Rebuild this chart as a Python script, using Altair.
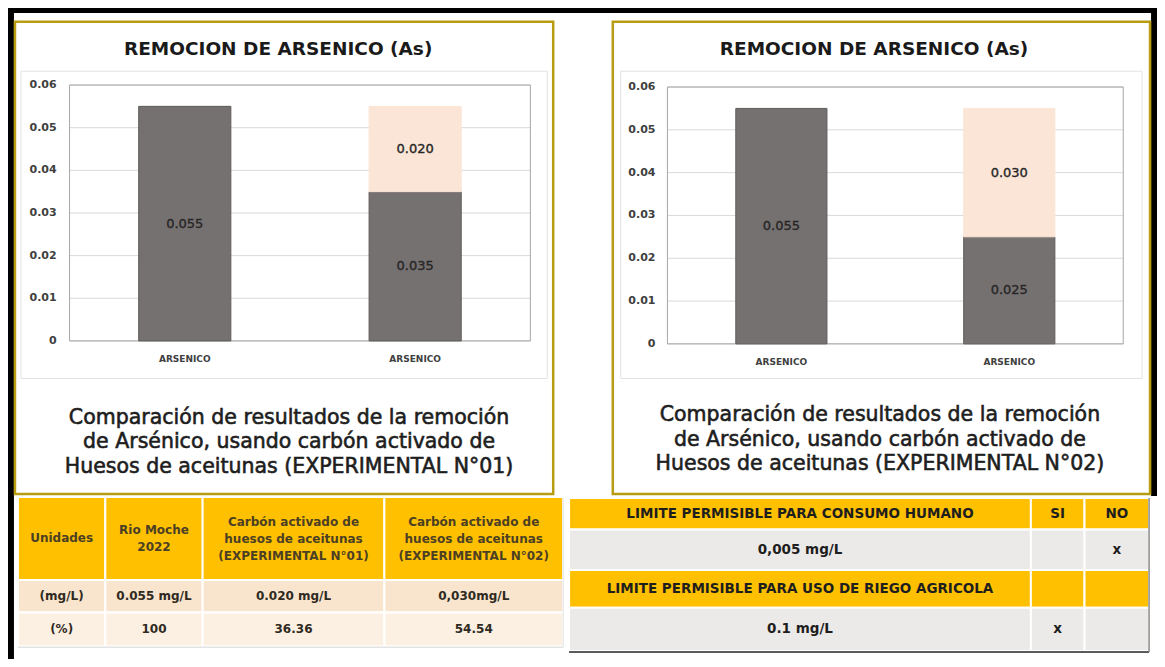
import altair as alt
import pandas as pd

# ---------------- data ----------------
categories = ["ARSENICO", "ARSENICO"]
category_keys = ["muestra_a", "muestra_b"]
series_names = ["inferior", "superior"]
exp1_base = [0.055, 0.035]
exp1_top = [0.0, 0.020]
exp2_base = [0.055, 0.025]
exp2_top = [0.0, 0.030]

y_ticks = [0.0, 0.01, 0.02, 0.03, 0.04, 0.05, 0.06]
y_tick_labels = ["0", "0.01", "0.02", "0.03", "0.04", "0.05", "0.06"]

chart_titles = ["REMOCION DE ARSENICO (As)", "REMOCION DE ARSENICO (As)"]
captions = [
    "Comparación de resultados de la remoción\nde Arsénico, usando carbón activado de\nHuesos de aceitunas (EXPERIMENTAL N°01)",
    "Comparación de resultados de la remoción\nde Arsénico, usando carbón activado de\nHuesos de aceitunas (EXPERIMENTAL N°02)",
]

results_header = ["Unidades", "Rio Moche\n2022",
                  "Carbón activado de\nhuesos de aceitunas\n(EXPERIMENTAL N°01)",
                  "Carbón activado de\nhuesos de aceitunas\n(EXPERIMENTAL N°02)"]
results_mg = ["(mg/L)", "0.055 mg/L", "0.020 mg/L", "0,030mg/L"]
results_pct = ["(%)", "100", "36.36", "54.54"]

limits_row1 = ["LIMITE PERMISIBLE PARA CONSUMO HUMANO", "SI", "NO"]
limits_row2 = ["0,005 mg/L", "", "x"]
limits_row3 = ["LIMITE PERMISIBLE PARA USO DE RIEGO AGRICOLA", "", ""]
limits_row4 = ["0.1 mg/L", "x", ""]

# ---------------- layout & style ----------------
W, H = 1149, 651


def X(x):
    return round((x - 8) * W / 1157, 2)


def Y(y):
    return round((y - 8) * H / 659, 2)


FONT = "DejaVu Sans"
GOLD_LINE = "#B89C12"
BAR_DARK = "#767171"
BAR_LIGHT = "#FBE5D6"
HEADER_GOLD = "#FFC000"
TABLE_LH = 17

one = pd.DataFrame({"k": [0]})


def rect(x0, y0, x1, y1, fill="transparent", stroke="transparent", sw=0):
    return alt.Chart(one).mark_rect(fill=fill, stroke=stroke, strokeWidth=sw).encode(
        x=alt.value(X(x0)), x2=alt.value(X(x1)), y=alt.value(Y(y0)), y2=alt.value(Y(y1)))


def line(x0, y0, x1, y1, color, sw):
    return alt.Chart(one).mark_rule(color=color, strokeWidth=sw).encode(
        x=alt.value(X(x0)), x2=alt.value(X(x1)), y=alt.value(Y(y0)), y2=alt.value(Y(y1)))


def label(text, x, y, size, weight="normal", color="#222222", lh=None, stroke=None):
    kw = dict(font=FONT, fontSize=size, fontWeight=weight, color=color,
              align="center", baseline="middle")
    if lh:
        kw.update(lineBreak="\n", lineHeight=lh)
    if stroke:
        kw.update(stroke=color, strokeWidth=stroke)
    return alt.Chart(pd.DataFrame({"t": [text]})).mark_text(**kw).encode(
        x=alt.value(X(x)), y=alt.value(Y(y)), text="t:N")


panels = [
    dict(box=(15, 22, 557, 500), area=(21, 72, 551, 383), plot=(70, 86, 534, 345),
         ylab_x=57, xlab_y=363, title=(280, 50), caption=(291, 423)),
    dict(box=(617, 22, 1158, 500), area=(625, 72, 1150, 383), plot=(672, 88, 1131, 348),
         ylab_x=660, xlab_y=366, title=(880, 50), caption=(886, 420)),
]


def bar_panel(base, top, lay, title, caption):
    px0, py0, px1, py1 = lay["plot"]
    xs = alt.Scale(type="band", domain=category_keys, range=[X(px0), X(px1)],
                   paddingInner=0.6, paddingOuter=0.3)
    ys = alt.Scale(type="linear", domain=[0, 0.06], range=[Y(py1), Y(py0)], nice=False, zero=True)
    rows = []
    for i, k in enumerate(category_keys):
        lo = 0.0
        for s, v in zip(series_names, [base[i], top[i]]):
            if v > 0:
                rows.append(dict(key=k, series=s, lo=lo, hi=lo + v, mid=lo + v / 2, value=v))
                lo += v
    bars_df = pd.DataFrame(rows)
    ticks_df = pd.DataFrame({"tick": y_ticks, "label": y_tick_labels})
    cats_df = pd.DataFrame({"key": category_keys, "name": categories})

    layers = [
        rect(*lay["box"], fill="white", stroke=GOLD_LINE, sw=2.5),
        rect(*lay["area"], stroke="#E2E2E2", sw=1),
        label(title, lay["title"][0], lay["title"][1], 18.5, "bold", "#1A1A1A"),
        alt.Chart(ticks_df).mark_rule(color="#D9D9D9", strokeWidth=1).encode(
            y=alt.Y("tick:Q", scale=ys, axis=None), x=alt.value(X(px0)), x2=alt.value(X(px1))),
        rect(px0, py0, px1, py1, stroke="#A6A6A6", sw=1),
        alt.Chart(bars_df).mark_bar(strokeWidth=1).encode(
            x=alt.X("key:N", scale=xs, axis=None),
            y=alt.Y("lo:Q", scale=ys, axis=None), y2="hi:Q",
            color=alt.Color("series:N", scale=alt.Scale(domain=series_names, range=[BAR_DARK, BAR_LIGHT]),
                            legend=None),
            stroke=alt.Stroke("series:N", scale=alt.Scale(domain=series_names, range=["#5F5B5B", BAR_LIGHT]),
                              legend=None)),
        alt.Chart(bars_df).mark_text(font=FONT, fontSize=13, color="#262626", baseline="middle",
                                     stroke="#262626", strokeWidth=0.35).encode(
            x=alt.X("key:N", scale=xs, axis=None),
            y=alt.Y("mid:Q", scale=ys, axis=None),
            text=alt.Text("value:Q", format=".3f")),
        alt.Chart(ticks_df).mark_text(font=FONT, fontSize=11, fontWeight="bold", color="#404040",
                                      align="right", baseline="middle").encode(
            y=alt.Y("tick:Q", scale=ys, axis=None), x=alt.value(X(lay["ylab_x"])), text="label:N"),
        alt.Chart(cats_df).mark_text(font=FONT, fontSize=9, fontWeight="bold", color="#404040",
                                     baseline="middle").encode(
            x=alt.X("key:N", scale=xs, axis=None), y=alt.value(Y(lay["xlab_y"])), text="name:N"),
        label(caption, lay["caption"][0], lay["caption"][1], 20.5, "normal", "#1E1E1E", lh=24.5, stroke=0.6),
    ]
    return layers


def table(cols, rows, fills, texts, sizes, colors):
    recs = []
    for r in range(len(rows) - 1):
        for c in range(len(cols) - 1):
            t = texts[r][c]
            n = t.count("\n")
            yc = (rows[r] + rows[r + 1]) / 2 - n * TABLE_LH / 2
            recs.append(dict(x0=cols[c], x1=cols[c + 1], y0=rows[r], y1=rows[r + 1],
                             xc=(cols[c] + cols[c + 1]) / 2, yc=yc,
                             fill=fills[r], text=t, fs=sizes[r], tc=colors[r]))
    df = pd.DataFrame(recs)
    xs = alt.Scale(domain=[cols[0], cols[-1]], range=[X(cols[0]), X(cols[-1])], nice=False, zero=False)
    ys = alt.Scale(domain=[rows[0], rows[-1]], range=[Y(rows[0]), Y(rows[-1])], nice=False, zero=False)
    cells = alt.Chart(df).mark_rect(stroke="white", strokeWidth=2).encode(
        x=alt.X("x0:Q", scale=xs, axis=None), x2="x1:Q",
        y=alt.Y("y0:Q", scale=ys, axis=None), y2="y1:Q",
        fill=alt.Fill("fill:N", scale=None))
    txt = alt.Chart(df).mark_text(font=FONT, fontWeight="bold", baseline="middle",
                                  lineBreak="\n", lineHeight=TABLE_LH).encode(
        x=alt.X("xc:Q", scale=xs, axis=None), y=alt.Y("yc:Q", scale=ys, axis=None),
        text="text:N", size=alt.Size("fs:Q", scale=None), color=alt.Color("tc:N", scale=None))
    return [cells, txt]


layers = [
    rect(8, 8, 1165, 13, fill="black"),
    rect(8, 8, 14, 667, fill="black"),
    rect(1159, 8, 1165, 502, fill="black"),
]
layers += bar_panel(exp1_base, exp1_top, panels[0], chart_titles[0], captions[0])
layers += bar_panel(exp2_base, exp2_top, panels[1], chart_titles[1], captions[1])

t1_cols, t1_rows = [18, 106, 204, 387, 567], [503, 587, 620, 654]
layers += table(t1_cols, t1_rows,
                [HEADER_GOLD, "#F9E5CE", "#FCF0E2"],
                [results_header, results_mg, results_pct],
                [12, 12, 12], ["#4B3F24", "#2F2A22", "#2F2A22"])
layers += [line(18, 655, 567, 655, "#D6D6D6", 1), line(567, 503, 567, 655, "#E0E0E0", 1)]

t2_cols, t2_rows = [573, 1038, 1092, 1157], [504, 536, 577, 615, 659]
layers += table(t2_cols, t2_rows,
                [HEADER_GOLD, "#ECEAE8", HEADER_GOLD, "#ECEAE8"],
                [limits_row1, limits_row2, limits_row3, limits_row4],
                [13.5, 13.5, 13.5, 13.5], ["#1E1E1E"] * 4)
layers += [line(573, 660, 1157, 660, "#5A5A5A", 2), line(1157, 504, 1157, 660, "#8A8A8A", 1.5)]

chart = alt.layer(*layers).resolve_scale(
    x="independent", y="independent", color="independent", stroke="independent", size="independent"
).properties(
    width=W, height=H, padding=0, background="white",
    autosize=alt.AutoSizeParams(type="fit", contains="padding"),
).configure_view(strokeWidth=0)

chart.save("out.html", embed_options={"renderer": "svg", "actions": False})
